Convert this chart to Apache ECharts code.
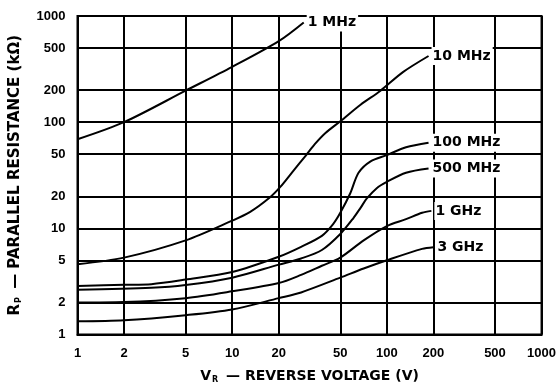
<!DOCTYPE html>
<html><head><meta charset="utf-8">
<script src="https://cdn.jsdelivr.net/npm/echarts@6/dist/echarts.min.js"></script>
<style>html,body{margin:0;padding:0;background:#fff}#c{width:559px;height:389px}</style>
</head><body><div id="c"></div>
<script>
const xTicks = [1, 2, 5, 10, 20, 50, 100, 200, 500, 1000];
const yTicks = [1, 2, 5, 10, 20, 50, 100, 200, 500, 1000];
const curveNames = ['1 MHz', '10 MHz', '100 MHz', '500 MHz', '1 GHz', '3 GHz'];
const mhz1 = [[1,69],[2,100],[5,198],[10,332],[20,580],[29,870]];
const mhz10 = [[1,4.6],[2,5.3],[5,7.7],[10,11.8],[13,14.2],[17.5,19.5],[20.4,24.4],[25,35.2],[30.1,49],[34.2,62],[40.1,79],[50,102],[67.6,146],[91,198],[127,296],[186,420]];
const mhz100 = [[1,2.87],[2,2.94],[3,2.98],[5,3.29],[10,3.88],[20,5.4],[27.9,6.7],[38,8.5],[44.8,10.9],[50,14.0],[58,21.4],[65.6,33.4],[78.5,42.8],[100,49],[133,58],[186,64]];
const mhz500 = [[1,2.64],[3,2.75],[5,2.92],[10,3.43],[20,4.55],[27.9,5.2],[38,6.25],[50,8.85],[60.8,12.5],[67.6,15.6],[74,19],[86,23.9],[100,27.4],[133,33.4],[186,36.6]];
const ghz1 = [[1,2.0],[2,2.02],[5,2.2],[10,2.55],[20,3.05],[27.9,3.64],[38,4.44],[50,5.3],[70.8,7.7],[100,10.5],[133,12.2],[169,14.0],[194,14.6]];
const ghz3 = [[1,1.33],[2,1.36],[5,1.52],[10,1.72],[20,2.2],[27.9,2.49],[50,3.43],[70.8,4.18],[100,5.0],[169,6.4],[200,6.65]];
const curves = [mhz1, mhz10, mhz100, mhz500, ghz1, ghz3];

const FONT = 'Liberation Sans';
const NFONT = 'DejaVu Sans';
function richName(size) {
  return {color: '#000', fontFamily: NFONT, fontWeight: 'bold', fontSize: size,
    rich: {a: {color: '#000', fontFamily: NFONT, fontWeight: 'bold', fontSize: size, lineHeight: 18},
           s: {color: '#000', fontFamily: NFONT, fontWeight: 'bold', fontSize: 8, lineHeight: 18, padding: [7, 3, 0, 1]}}};
}
const chart = echarts.init(document.getElementById('c'), null, {renderer: 'canvas'});
chart.setOption({
  animation: false,
  backgroundColor: '#fff',
  grid: {left: 77, top: 16, right: 13, bottom: 48, show: true, borderColor: '#000', borderWidth: 2},
  xAxis: {
    type: 'log', logBase: 10, min: 1, max: 1000,
    axisLine: {show: true, lineStyle: {color: '#000', width: 2}},
    axisTick: {show: false, customValues: xTicks},
    axisLabel: {customValues: xTicks, formatter: v => String(Math.round(v)), color: '#000', fontFamily: FONT, fontWeight: 'bold', fontSize: 13, margin: 12},
    splitLine: {show: true, lineStyle: {color: '#000', width: 2}},
    name: '{a|V}{s|R}{a| — REVERSE VOLTAGE (V)}',
    nameLocation: 'middle', nameGap: 33,
    nameTextStyle: richName(14)
  },
  yAxis: {
    type: 'log', logBase: 10, min: 1, max: 1000,
    axisLine: {show: true, lineStyle: {color: '#000', width: 2}},
    axisTick: {show: false, customValues: yTicks},
    axisLabel: {customValues: yTicks, formatter: v => String(Math.round(v)), color: '#000', fontFamily: FONT, fontWeight: 'bold', fontSize: 13, margin: 12},
    splitLine: {show: true, lineStyle: {color: '#000', width: 2}},
    name: '{a|R}{s|P}{a| — PARALLEL RESISTANCE (kΩ)}',
    nameLocation: 'middle', nameGap: 53, nameRotate: 90,
    nameTextStyle: richName(15)
  },
  series: curves.map((d, i) => ({
    type: 'line', name: curveNames[i], data: d, smooth: 0.3, showSymbol: false,
    lineStyle: {color: '#000', width: 2}, z: 5,
    endLabel: {show: true, formatter: '{a}', distance: 3, color: '#000', fontFamily: NFONT, fontWeight: 'bold', fontSize: 14,
      backgroundColor: '#fff', padding: [2, 2, 2, 1]}
  }))
});
</script></body></html>
